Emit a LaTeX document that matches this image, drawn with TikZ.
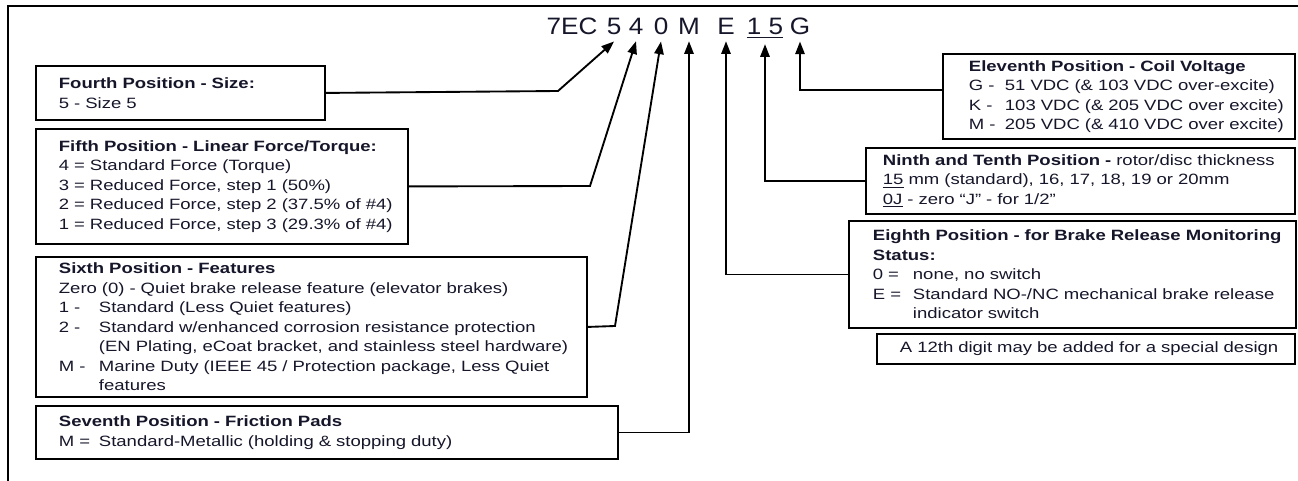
\documentclass[tikz,border=0pt]{standalone}
\usepackage{fontspec}
\setmainfont{Liberation Sans}[FakeStretch=1.24]
\newfontfamily\codefont{Liberation Sans}[FakeStretch=1.1]
\usetikzlibrary{arrows.meta}
\definecolor{ink}{HTML}{16162A}
\newcommand{\keylbl}[2][30pt]{\makebox[#1][l]{#2}}

\begin{document}
\begin{tikzpicture}[x=0.75pt, y=-0.75pt,
    infobox/.style={draw=black, line width=1.4pt, anchor=north west, align=left,
        text=ink, inner xsep=0pt, inner ysep=0pt,
        font=\fontsize{11.2}{14.6}\selectfont,
        execute at begin node={\leftskip=#1}},
    infobox/.default=17.25pt,
    digit/.style={anchor=base, inner sep=4.5pt, text=ink,
        font=\codefont\fontsize{17.8}{20}\selectfont},
    lead/.style={line width=1.4pt, -{Triangle[length=9.5pt,width=7pt]}}]
    \useasboundingbox (0,0) rectangle (1298,481);

    % outer frame
    \draw[line width=1.4pt] (8,481) -- (8,6) -- (1298,6);

    % part number
    \node[digit] (prefix) at (572,35) {7EC};
    \node[digit] (d5) at (614,35) {5};
    \node[digit] (d4) at (636,35) {4};
    \node[digit] (d0) at (661,35) {0};
    \node[digit] (dM) at (689,35) {M};
    \node[digit] (dE) at (726,35) {E};
    \node[digit] (d15) at (765,35) {\underline{1 5}};
    \node[digit] (dG) at (800,35) {G};

    % left column
    \node[infobox, text width=216.75pt, minimum height=40.5pt] (size) at (35,65) {%
        \textbf{Fourth Position - Size:}\\
        5 - Size 5};
    \node[infobox, text width=279pt, minimum height=86.25pt] (force) at (35,128) {%
        \textbf{Fifth Position - Linear Force/Torque:}\\
        4 = Standard Force (Torque)\\
        3 = Reduced Force, step 1 (50\%)\\
        2 = Reduced Force, step 2 (37.5\% of \#4)\\
        1 = Reduced Force, step 3 (29.3\% of \#4)};
    \node[infobox, text width=413.25pt, minimum height=105pt] (feat) at (35,256) {%
        \textbf{Sixth Position - Features}\\
        Zero (0) - Quiet brake release feature (elevator brakes)\\
        \keylbl{1 -}Standard (Less Quiet features)\\
        \keylbl{2 -}Standard w/enhanced corrosion resistance protection\\
        \keylbl{}(EN Plating, eCoat bracket, and stainless steel hardware)\\
        \keylbl{M -}Marine Duty (IEEE 45 / Protection package, Less Quiet\\
        \keylbl{}features};
    \node[infobox, text width=436.5pt, minimum height=39.75pt] (pads) at (35,405) {%
        \textbf{Seventh Position - Friction Pads}\\
        \keylbl{M =}Standard-Metallic (holding \& stopping duty)};

    % right column
    \node[infobox=19.5pt, text width=264pt, minimum height=63.75pt] (coil) at (942,53) {%
        \textbf{Eleventh Position - Coil Voltage}\\
        \keylbl[27pt]{G -}51 VDC (\& 103 VDC over-excite)\\
        \keylbl[27pt]{K -}103 VDC (\& 205 VDC over excite)\\
        \keylbl[27pt]{M -}205 VDC (\& 410 VDC over excite)};
    \node[infobox=12.75pt, text width=321.75pt, minimum height=49.5pt] (disc) at (865,147) {%
        \textbf{Ninth and Tenth Position -} rotor/disc thickness\\
        \underline{15} mm (standard), 16, 17, 18, 19 or 20mm\\
        \underline{0J} - zero ``J'' - for 1/2''};
    \node[infobox=18pt, text width=335.25pt, minimum height=80.25pt] (mon) at (848,220) {%
        \textbf{Eighth Position - for Brake Release Monitoring}\\
        \textbf{Status:}\\
        \keylbl{0 =}none, no switch\\
        \keylbl{E =}Standard NO-/NC mechanical brake release\\
        \keylbl{}indicator switch};
    \node[infobox, text width=313.5pt, minimum height=22.5pt] (note) at (876,333) {%
        A 12th digit may be added for a special design};

    % leaders
    \draw[lead] (size.east) -- (558,91) -- (d5.south);
    \draw[lead] (force.east) -- (590,186) -- (d4.south);
    \draw[lead] (feat.east) -- (615,326) -- (d0.south);
    \draw[lead] (pads.east) -| (dM.south);
    \draw[lead] (mon.west) -| (dE.south);
    \draw[lead] (disc.west) -| (d15.south);
    \draw[lead] ([yshift=5pt]coil.west) -| (dG.south);
\end{tikzpicture}
\end{document}
